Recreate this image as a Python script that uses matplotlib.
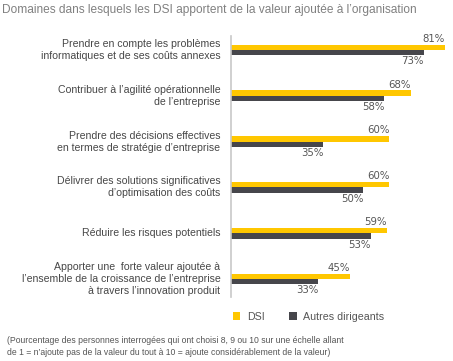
import matplotlib
matplotlib.use("Agg")
import matplotlib.pyplot as plt
import numpy as np

categories = [
    "Prendre en compte les problèmes\ninformatiques et de ses coûts annexes",
    "Contribuer à l’agilité opérationnelle\nde l’entreprise",
    "Prendre des décisions effectives\nen termes de stratégie d’entreprise",
    "Délivrer des solutions significatives\nd’optimisation des coûts",
    "Réduire les risques potentiels",
    "Apporter une  forte valeur ajoutée à\nl’ensemble de la croissance de l’entreprise\nà travers l’innovation produit",
]
dsi = [81, 68, 60, 60, 59, 45]
autres = [73, 58, 35, 50, 53, 33]

yellow = "#FFC700"
dark = "#46464B"
plt.rcParams["font.family"] = ["Liberation Sans", "DejaVu Sans"]

fig = plt.figure(figsize=(4.53, 3.61), dpi=100)
ax = fig.add_axes([0.510, 0.177, 0.583, 0.723])

y = np.arange(len(categories))
h = 0.115
ax.barh(y - h / 2, dsi, height=h, color=yellow, label="DSI")
ax.barh(y + h / 2, autres, height=h, color=dark, label="Autres dirigeants")

for i in range(len(y)):
    ax.text(dsi[i], y[i] - h - 0.02, f"{dsi[i]}%", ha="right", va="bottom",
            fontsize=7.3, color="#555555", family="DejaVu Sans")
    ax.text(autres[i], y[i] + h + 0.02, f"{autres[i]}%", ha="right", va="top",
            fontsize=7.3, color="#555555", family="DejaVu Sans")
    ax.text(-4, y[i], categories[i], ha="right", va="center", fontsize=7.6,
            color="#474747", linespacing=1.25, clip_on=False)

ax.set_xlim(0, 100)
ax.set_ylim(5.39, -0.30)
ax.set_xticks([])
ax.set_yticks([])
for s in ["top", "right", "bottom"]:
    ax.spines[s].set_visible(False)
ax.spines["left"].set_color("#c8c8c8")
ax.spines["left"].set_linewidth(1.2)

fig.text(0.005, 0.972, "Domaines dans lesquels les DSI apportent de la valeur ajoutée à l’organisation",
         fontsize=8.6, color="#808080", va="center", ha="left")

leg = fig.legend(loc="center left", bbox_to_anchor=(0.493, 0.122), ncol=2, frameon=False,
                 fontsize=7.7, handlelength=0.7, handleheight=0.7, columnspacing=2.3,
                 handletextpad=0.6)
for t in leg.get_texts():
    t.set_color("#555555")

fig.text(0.016, 0.04,
         "(Pourcentage des personnes interrogées qui ont choisi 8, 9 ou 10 sur une échelle allant\n"
         "de 1 = n’ajoute pas de la valeur du tout à 10 = ajoute considérablement de la valeur)",
         fontsize=6.2, color="#555555", va="center", ha="left", linespacing=1.45)

fig.savefig("out.png", dpi=100)
